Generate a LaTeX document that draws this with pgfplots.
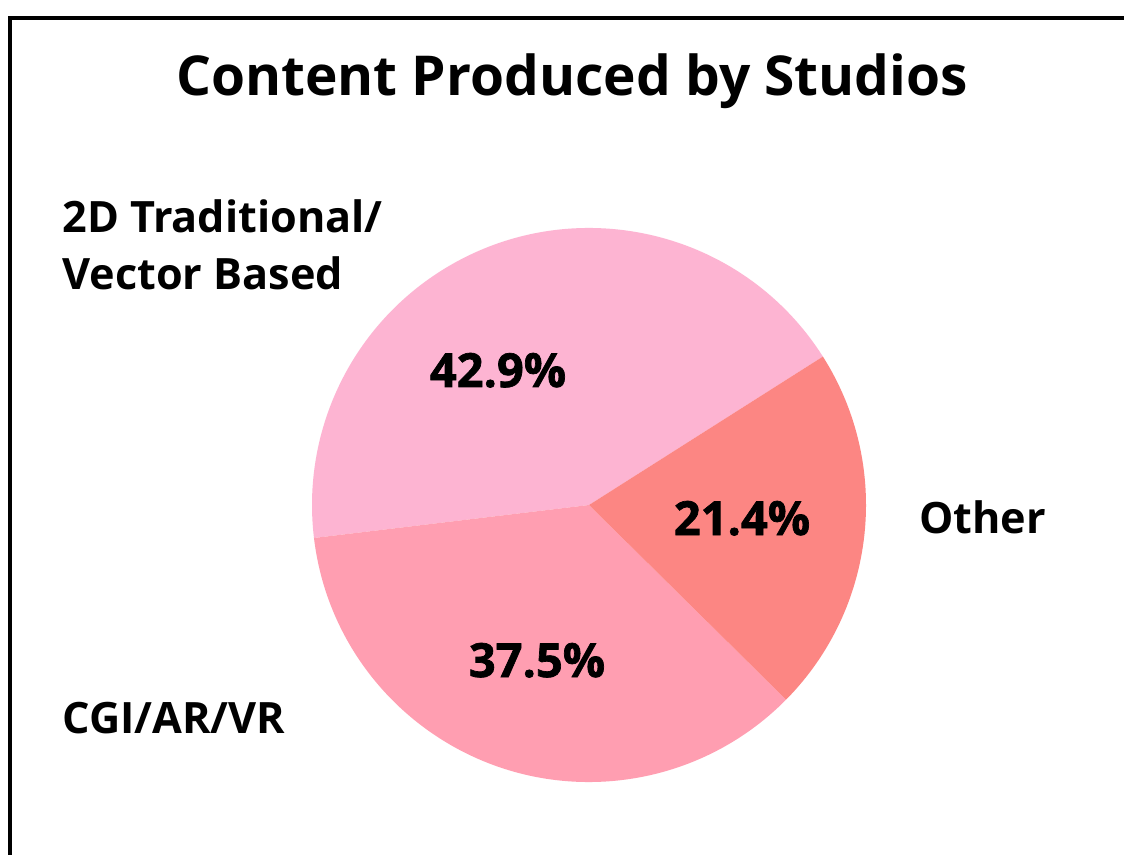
\documentclass[border=0pt]{standalone}
\usepackage{fontspec}
\setmainfont{Open Sans}
\newfontfamily\heavy{Open Sans}[BoldFeatures={FakeBold=1.5}]
\usepackage{pgfplots}
\pgfplotsset{compat=1.18}
\usepackage{pgfplotstable}

\definecolor{pieA}{HTML}{FDB4D2}
\definecolor{pieB}{HTML}{FF9EB1}
\definecolor{pieC}{HTML}{FC8683}

% slice shares (angles) and the percentages printed on them
\pgfplotstableread{
share shown
42.9  42.9
35.7  37.5
21.4  21.4
}\piedata

\pgfplotstablegetelem{0}{share}\of\piedata \let\sA\pgfplotsretval
\pgfplotstablegetelem{1}{share}\of\piedata \let\sB\pgfplotsretval
\pgfplotstablegetelem{2}{share}\of\piedata \let\sC\pgfplotsretval
\pgfplotstablegetelem{0}{shown}\of\piedata \let\tA\pgfplotsretval
\pgfplotstablegetelem{1}{shown}\of\piedata \let\tB\pgfplotsretval
\pgfplotstablegetelem{2}{shown}\of\piedata \let\tC\pgfplotsretval

\pgfmathsetmacro\aO{32.4}
\pgfmathsetmacro\aA{\aO+3.6*\sA}
\pgfmathsetmacro\aB{\aA+3.6*\sB}
\pgfmathsetmacro\aC{\aB+3.6*\sC}
\def\rad{138.5bp}

\begin{document}
\begin{tikzpicture}[x=0.5bp,y=0.5bp]
\useasboundingbox (0,0) rectangle (1124,854);
\fill[white] (0,0) rectangle (1124,854);
\draw[line width=2bp] (9.5,-5) -- (9.5,836) -- (1130,836);
\coordinate (ctr) at (589,349);

\begin{axis}[at={(ctr)}, anchor=origin,
  x=138.5bp, y=138.5bp, xmin=-1, xmax=1, ymin=-1, ymax=1,
  hide axis, clip=false]
  \fill[pieA] (axis cs:0,0) -- ++(\aO:\rad) arc[start angle=\aO, end angle=\aA, radius=\rad] -- cycle;
  \fill[pieB] (axis cs:0,0) -- ++(\aA:\rad) arc[start angle=\aA, end angle=\aB, radius=\rad] -- cycle;
  \fill[pieC] (axis cs:0,0) -- ++(\aB:\rad) arc[start angle=\aB, end angle=\aC, radius=\rad] -- cycle;
\end{axis}

\node[anchor=base, font=\fontsize{27.5bp}{33bp}\selectfont\bfseries] at (572,758) {Content Produced by Studios};

\begin{scope}[every node/.style={font=\fontsize{21.6bp}{25bp}\selectfont\bfseries, inner sep=0pt}]
  \node[anchor=base west] at (62,621) {2D Traditional/};
  \node[anchor=base west] at (62,564) {Vector Based};
  \node[anchor=base west] at (62,121) {CGI/AR/VR};
  \node[anchor=base west] at (919,321) {Other};
\end{scope}

\begin{scope}[every node/.style={font=\fontsize{23.5bp}{26bp}\selectfont\heavy\bfseries, inner sep=0pt, anchor=base}]
  \node at (498,467) {\tA\%};
  \node at (742,319) {\tC\%};
  \node at (537,177) {\tB\%};
\end{scope}
\end{tikzpicture}
\end{document}
